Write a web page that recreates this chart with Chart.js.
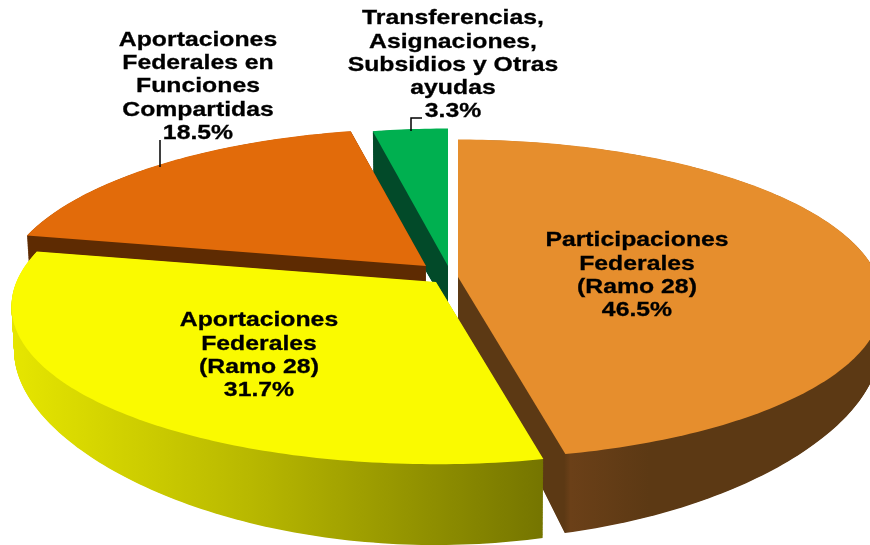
<!DOCTYPE html>
<html>
<head>
<meta charset="utf-8">
<style>
  html, body { margin: 0; padding: 0; background: #fff; overflow: hidden; }
  canvas { display: block; }
</style>
<script src="https://cdn.jsdelivr.net/npm/chart.js@4/dist/chart.umd.min.js"></script>
</head>
<body>
<canvas id="chart" width="870" height="545"></canvas>
<script>
// Datos
const categories = [
    ['Participaciones', 'Federales', '(Ramo 28)'],
    ['Aportaciones', 'Federales', '(Ramo 28)'],
    ['Aportaciones', 'Federales en', 'Funciones', 'Compartidas'],
    ['Transferencias,', 'Asignaciones,', 'Subsidios y Otras', 'ayudas']
];
const values = [46.5, 31.7, 18.5, 3.3];

// Estilo de cada rebanada
const topColors = ['#E68E2D', '#FAFA00', '#E26B0A', '#00B050'];
const wallStops = [
    [[0, '#5C3914'], [0.25, '#5C3914'], [0.265, '#6B4018'], [0.45, '#5C3914'], [1, '#5C3914']],
    [[0, '#E6E600'], [0.45, '#B8B800'], [1, '#757500']],
    [[0, '#5E2B02'], [1, '#5E2B02']],
    [[0, '#024A29'], [1, '#024A29']]
];
const sliceShift = [[23, 4.5], [1, 9.5], [-9, -6.5], [13, -6.5]];
const drawOrder = [3, 2, 0, 1];

// Posición de las etiquetas
const labelCenter = [[637, 240.5], [259, 320.5], [198, 40], [453, 18.5]];
const lineHeight = 23.3;
const textStretch = 1.18;

// Perspectiva de la cara superior y de la base
const topFace = { kx: 1.54, ky: 0.575, px: 0.151, py: 0.14, drop: 0 };
const baseFace = { kx: 1.53, ky: 0.6, px: 0.152, py: 0.257, drop: 43 };
const wallLayers = 110;

function project(face, arc, shift, r, angle) {
    const u = r * Math.cos(angle), v = r * Math.sin(angle);
    return [
        arc.x + shift[0] + face.kx * arc.outerRadius * u / (1 - face.px * v),
        arc.y + shift[1] + face.drop + face.ky * arc.outerRadius * v / (1 - face.py * v)
    ];
}

function sectorPoints(face, arc, shift) {
    const pts = [project(face, arc, shift, 0, 0)];
    const steps = Math.max(4, Math.ceil((arc.endAngle - arc.startAngle) * 60));
    for (let i = 0; i <= steps; i++) {
        const a = arc.startAngle + (arc.endAngle - arc.startAngle) * i / steps;
        pts.push(project(face, arc, shift, 1, a));
    }
    return pts;
}

function fillPoly(ctx, pts) {
    ctx.beginPath();
    pts.forEach((p, i) => i ? ctx.lineTo(p[0], p[1]) : ctx.moveTo(p[0], p[1]));
    ctx.closePath();
    ctx.fill();
}

const pie3d = {
    id: 'pie3d',
    beforeDatasetsDraw(chart) {
        const ctx = chart.ctx;
        const arcs = chart.getDatasetMeta(0).data;
        drawOrder.forEach(i => {
            const arc = arcs[i].getProps(['x', 'y', 'startAngle', 'endAngle', 'outerRadius']);
            const top = sectorPoints(topFace, arc, sliceShift[i]);
            const base = sectorPoints(baseFace, arc, sliceShift[i]);
            const xs = top.map(p => p[0]);
            const grad = ctx.createLinearGradient(Math.min(...xs), 0, Math.max(...xs), 0);
            wallStops[i].forEach(s => grad.addColorStop(s[0], s[1]));
            ctx.fillStyle = grad;
            for (let l = wallLayers; l > 0; l--) {
                const t = l / wallLayers;
                fillPoly(ctx, top.map((p, k) => [p[0] + (base[k][0] - p[0]) * t, p[1] + (base[k][1] - p[1]) * t]));
            }
            ctx.fillStyle = topColors[i];
            fillPoly(ctx, top);
        });
        return false;
    },
    afterDraw(chart) {
        const ctx = chart.ctx;
        // lineas guia
        ctx.strokeStyle = '#000';
        ctx.lineWidth = 1.5;
        ctx.beginPath();
        ctx.moveTo(160, 140); ctx.lineTo(160, 167);
        ctx.moveTo(411, 131); ctx.lineTo(411, 118); ctx.lineTo(422, 118);
        ctx.stroke();

        ctx.fillStyle = '#000';
        ctx.font = 'bold 21px "Liberation Sans", Arial, sans-serif';
        ctx.textAlign = 'center';
        ctx.textBaseline = 'middle';
        ctx.lineWidth = 0.3;
        categories.forEach((lines, i) => {
            const all = lines.concat(values[i].toFixed(1) + '%');
            all.forEach((line, n) => {
                ctx.save();
                ctx.translate(labelCenter[i][0], labelCenter[i][1] + n * lineHeight);
                ctx.scale(textStretch, 1);
                ctx.fillText(line, 0, 0);
                ctx.strokeText(line, 0, 0);
                ctx.restore();
            });
        });
    }
};

new Chart(document.getElementById('chart'), {
    type: 'pie',
    data: {
        labels: categories,
        datasets: [{ data: values, backgroundColor: topColors, borderWidth: 0 }]
    },
    options: {
        responsive: false,
        animation: false,
        rotation: 0,
        layout: { padding: 0 },
        plugins: { legend: { display: false }, tooltip: { enabled: false } }
    },
    plugins: [pie3d]
});
</script>
</body>
</html>
